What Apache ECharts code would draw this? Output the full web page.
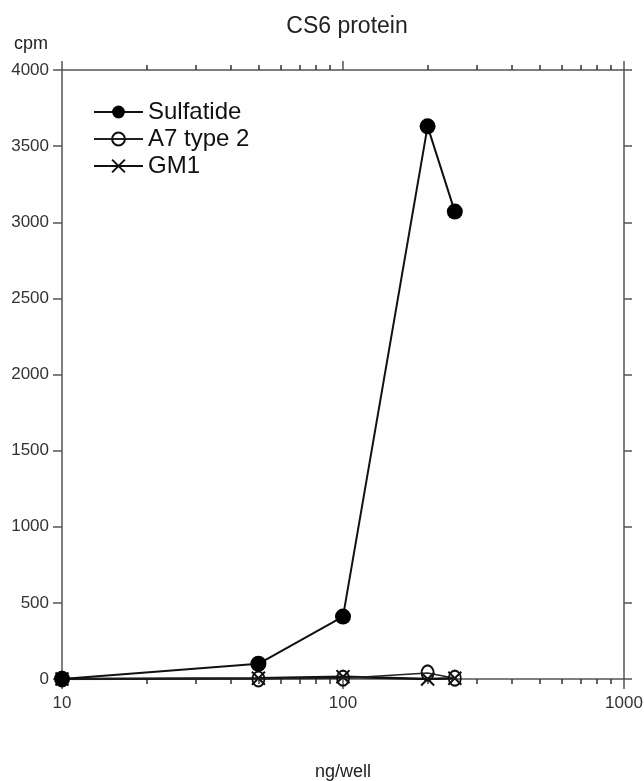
<!DOCTYPE html>
<html>
<head>
<meta charset="utf-8">
<title>CS6 protein</title>
<script src="https://cdn.jsdelivr.net/npm/echarts@6/dist/echarts.min.js"></script>
<style>
  html, body { margin: 0; padding: 0; background: #fff; }
  #chart { width: 644px; height: 781px; }
</style>
</head>
<body>
<div id="chart"></div>
<script>
  // ng/well on a log axis, cpm on the y axis
  const doses = [10, 50, 100, 200, 250];
  const sulfatide = [0, 100, 410, 3630, 3070];
  const a7type2 = [0, 0, 5, 40, 5];
  const gm1 = [0, 5, 15, 0, 5];
  const minorTicks = [20, 30, 40, 50, 60, 70, 80, 90, 200, 300, 400, 500, 600, 700, 800, 900];
  const yTicks = [0, 500, 1000, 1500, 2000, 2500, 3000, 3500, 4000];

  const FONT = "'Liberation Sans', Arial, sans-serif";
  const AXIS = "#555";
  const TEXT = "#333";

  const pairs = (ys) => doses.map((x, i) => [x, ys[i]]);
  const plain = (v) => String(v);

  const chart = echarts.init(document.getElementById("chart"));

  const logBase = {
    type: "log",
    logBase: 10,
    min: 10,
    max: 1000,
    splitLine: { show: false },
  };

  chart.setOption({
    animation: false,
    backgroundColor: "#fff",
    textStyle: { fontFamily: FONT },
    title: [
      {
        text: "CS6 protein",
        left: 342,
        top: 10,
        textAlign: "center",
        textStyle: { fontFamily: FONT, fontSize: 23, fontWeight: "normal", color: "#222" },
      },
      {
        text: "cpm",
        left: 9,
        top: 30,
        textStyle: { fontFamily: FONT, fontSize: 18, fontWeight: "normal", color: "#222" },
      },
    ],
    legend: {
      left: 88,
      top: 94,
      orient: "vertical",
      itemWidth: 49,
      itemHeight: 16,
      itemGap: 1,
      textStyle: { fontFamily: FONT, fontSize: 24, color: "#111", lineHeight: 26 },
      data: ["Sulfatide", "A7 type 2", "GM1"],
    },
    grid: { left: 62, right: 20, top: 70, bottom: 102, containLabel: false, outerBoundsMode: "none" },
    xAxis: [
      Object.assign({}, logBase, {
        position: "bottom",
        name: "ng/well",
        nameLocation: "middle",
        nameGap: 84,
        nameTextStyle: { fontFamily: FONT, fontSize: 18, color: "#222" },
        axisLine: { lineStyle: { color: AXIS, width: 1.5 } },
        axisTick: { inside: false, length: 10, lineStyle: { color: AXIS, width: 1.5 } },
        axisLabel: { fontFamily: FONT, fontSize: 17, color: TEXT, margin: 16, formatter: plain },
      }),
      Object.assign({}, logBase, {
        position: "bottom",
        axisLine: { show: false },
        axisTick: { customValues: minorTicks, length: 5, lineStyle: { color: "#333", width: 1.5 } },
        axisLabel: { show: false },
      }),
      Object.assign({}, logBase, {
        position: "top",
        axisLine: { lineStyle: { color: AXIS, width: 1.5 } },
        axisTick: { length: 9, lineStyle: { color: AXIS, width: 1.5 } },
        axisLabel: { show: false },
      }),
      Object.assign({}, logBase, {
        position: "top",
        axisLine: { show: false },
        axisTick: { customValues: minorTicks, length: 5, lineStyle: { color: "#333", width: 1.5 } },
        axisLabel: { show: false },
      }),
    ],
    yAxis: [
      {
        type: "value",
        position: "left",
        min: 0,
        max: 4000,
        interval: 500,
        splitLine: { show: false },
        axisLine: { show: true, lineStyle: { color: AXIS, width: 1.5 } },
        axisTick: { show: true, length: 9, lineStyle: { color: AXIS, width: 1.5 } },
        axisLabel: { fontFamily: FONT, fontSize: 17, color: TEXT, margin: 13, customValues: yTicks, formatter: plain },
      },
      {
        type: "value",
        position: "right",
        min: 0,
        max: 4000,
        interval: 500,
        splitLine: { show: false },
        axisLine: { show: true, lineStyle: { color: AXIS, width: 1.5 } },
        axisTick: { show: true, length: 8, lineStyle: { color: AXIS, width: 1.5 } },
        axisLabel: { show: false },
      },
    ],
    series: [
      {
        name: "GM1",
        type: "line",
        xAxisIndex: 0,
        yAxisIndex: 0,
        data: pairs(gm1),
        symbol: "path://M0,0 L10,10 M10,0 L0,10",
        symbolSize: 13,
        lineStyle: { color: "#111", width: 2.5 },
        itemStyle: { color: "transparent", borderColor: "#111", borderWidth: 2 },
        z: 3,
      },
      {
        name: "A7 type 2",
        type: "line",
        xAxisIndex: 0,
        yAxisIndex: 0,
        data: pairs(a7type2),
        symbol: "circle",
        symbolSize: [12, 15],
        lineStyle: { color: "#222", width: 1.5 },
        itemStyle: { color: "transparent", borderColor: "#111", borderWidth: 2 },
        z: 4,
      },
      {
        name: "Sulfatide",
        type: "line",
        xAxisIndex: 0,
        yAxisIndex: 0,
        data: pairs(sulfatide),
        symbol: "circle",
        symbolSize: 16,
        lineStyle: { color: "#111", width: 2 },
        itemStyle: { color: "#000", borderColor: "#000", borderWidth: 0 },
        z: 5,
      },
    ],
  });
</script>
</body>
</html>
